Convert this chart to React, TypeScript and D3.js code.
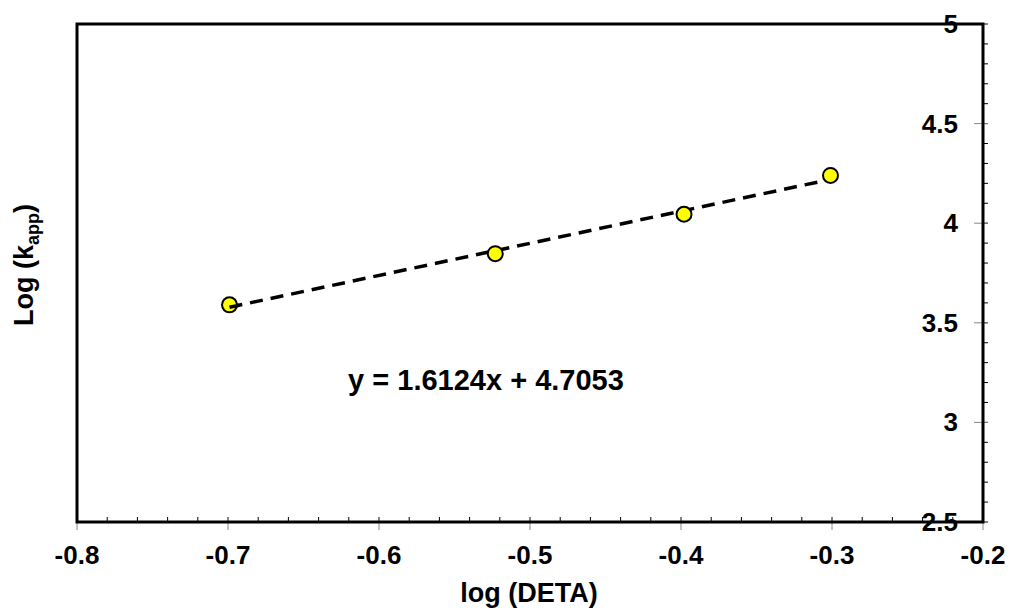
import React from "react";
import * as d3 from "d3";

const xData = [-0.699, -0.523, -0.398, -0.301];
const yData = [3.59, 3.847, 4.045, 4.24];
const slope = 1.6124;
const intercept = 4.7053;
const xTicks = [-0.8, -0.7, -0.6, -0.5, -0.4, -0.3, -0.2];
const yTicks = [2.5, 3, 3.5, 4, 4.5, 5];

const W = 1010, H = 612;
const L = 77, R = 983, T = 24, B = 522;

export default function App() {
  const x = d3.scaleLinear().domain([-0.8, -0.2]).range([L, R]);
  const y = d3.scaleLinear().domain([2.5, 5]).range([B, T]);
  const xMinor = d3.range(0, 31).map(i => -0.8 + i * 0.02);
  const yMinor = d3.range(0, 26).map(i => 2.5 + i * 0.1);
  const x0 = d3.min(xData)!, x1 = d3.max(xData)!;
  const font = "Arial, 'Liberation Sans', sans-serif";
  return (
    <svg width={W} height={H} style={{ position: "absolute", left: 0, top: 0 }} fontFamily={font}>
      <rect x={0} y={0} width={W} height={H} fill="#fff" />
      {xMinor.map((v, i) => (
        <line key={"xm" + i} x1={x(v)} x2={x(v)} y1={B} y2={B - 5} stroke="#000" strokeWidth={1} />
      ))}
      {xTicks.map((v, i) => (
        <line key={"xt" + i} x1={x(v)} x2={x(v)} y1={B - 5} y2={B + 8} stroke="#888" strokeWidth={1} />
      ))}
      {yMinor.map((v, i) => (
        <line key={"ym" + i} x1={R} x2={R + 5} y1={y(v)} y2={y(v)} stroke="#000" strokeWidth={1} />
      ))}
      {yTicks.map((v, i) => (
        <line key={"yt" + i} x1={R - 9} x2={R + 5} y1={y(v)} y2={y(v)} stroke="#888" strokeWidth={1} />
      ))}
      <rect x={L} y={T} width={R - L} height={B - T} fill="none" stroke="#000" strokeWidth={3} />
      {xTicks.map((v, i) => (
        <text key={"xl" + i} x={x(v)} y={564} textAnchor="middle" fontSize={26} fontWeight="bold">{v}</text>
      ))}
      {yTicks.map((v, i) => (
        <text key={"yl" + i} x={958} y={y(v) + 9} textAnchor="end" fontSize={26} fontWeight="bold">{v}</text>
      ))}
      <line x1={x(x0)} y1={y(slope * x0 + intercept)} x2={x(x1)} y2={y(slope * x1 + intercept)}
        stroke="#000" strokeWidth={3.5} strokeDasharray="13,8" />
      {xData.map((v, i) => (
        <circle key={"p" + i} cx={x(v)} cy={y(yData[i])} r={7.5} fill="#ffff00" stroke="#000" strokeWidth={2} />
      ))}
      <line x1={x(x0)} y1={y(slope * x0 + intercept)} x2={x(x0) + 10} y2={y(slope * (x0 + 0.0066) + intercept)}
        stroke="#000" strokeWidth={3.5} />
      <text x={486} y={390} textAnchor="middle" fontSize={29} fontWeight="bold">y = 1.6124x + 4.7053</text>
      <text x={529} y={602} textAnchor="middle" fontSize={27} fontWeight="bold">log (DETA)</text>
      <text transform="translate(33,265) rotate(-90)" textAnchor="middle" fontSize={27} fontWeight="bold">
        Log (k<tspan fontSize={18} dy={6}>app</tspan><tspan dy={-6}>)</tspan>
      </text>
    </svg>
  );
}
